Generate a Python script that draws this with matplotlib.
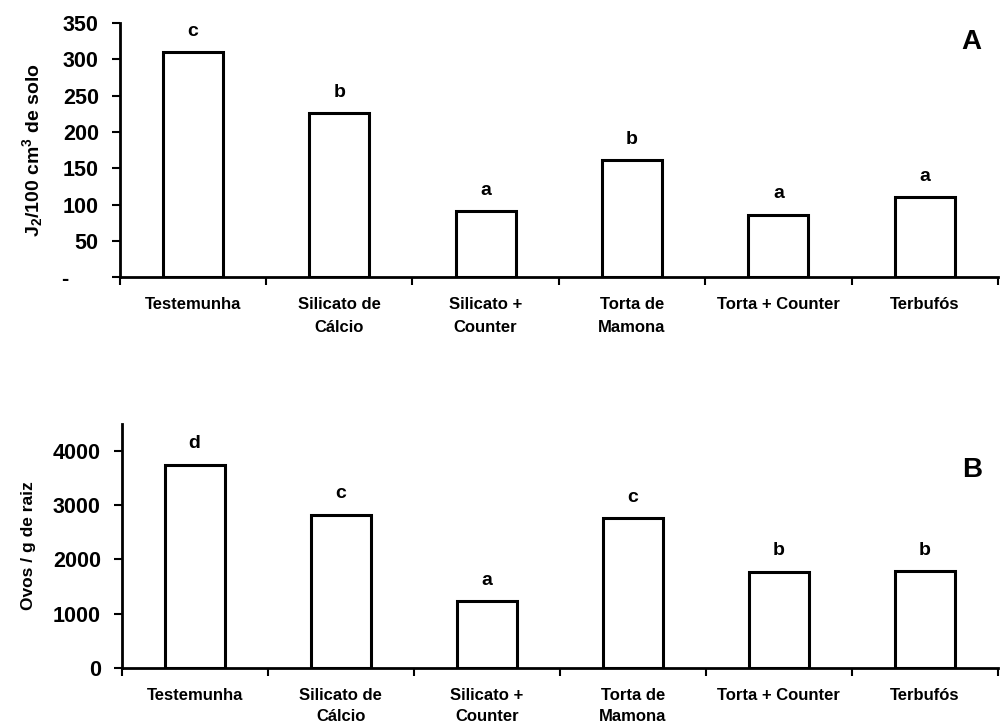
import matplotlib
matplotlib.use('Agg')
import matplotlib.pyplot as plt
import numpy as np

plt.rcParams['font.family'] = ['Liberation Sans', 'DejaVu Sans']
plt.rcParams['font.weight'] = 'bold'
plt.rcParams['mathtext.default'] = 'regular'

# tratamentos
tratamentos = ['Testemunha', 'Silicato de\nCálcio', 'Silicato +\nCounter',
               'Torta de\nMamona', 'Torta + Counter', 'Terbufós']

# A - juvenis (J2) por 100 cm3 de solo
j2_solo = [310, 226, 91, 161, 86, 110]
letras_j2 = ['c', 'b', 'a', 'b', 'a', 'a']

# B - ovos por grama de raiz
ovos_raiz = [3745, 2820, 1230, 2760, 1770, 1785]
letras_ovos = ['d', 'c', 'a', 'c', 'b', 'b']


def painel(ax, valores, letras, ymax, yticks, yticklabels, ylabel, tag, ylabel_size, lsp):
    x = np.arange(len(tratamentos))
    ax.bar(x, valores, width=0.41, color='white', edgecolor='black', linewidth=2.2)
    for xi, v, l in zip(x, valores, letras):
        ax.annotate(l, (xi, v), xytext=(0, 9), textcoords='offset points',
                    ha='center', va='bottom', fontsize=14, fontweight='bold')
    ax.set_xlim(-0.5, len(tratamentos) - 0.5)
    ax.set_ylim(0, ymax)
    ax.set_yticks(yticks)
    ax.set_yticklabels(yticklabels)
    ax.set_xticks(x)
    ax.set_xticklabels(tratamentos, fontsize=12, fontweight='bold', linespacing=lsp)
    ax.set_xticks(np.arange(-0.5, len(tratamentos)), minor=True)
    ax.tick_params(axis='x', which='major', length=0, pad=14)
    ax.tick_params(axis='x', which='minor', length=6, width=1.5, direction='out')
    ax.tick_params(axis='y', length=6, width=1.5, direction='out', pad=9, labelsize=15.5)
    for lab in ax.get_yticklabels():
        lab.set_fontweight('bold')
    for s in ['top', 'right']:
        ax.spines[s].set_visible(False)
    for s in ['left', 'bottom']:
        ax.spines[s].set_linewidth(2)
    ax.set_ylabel(ylabel, fontsize=ylabel_size, fontweight='bold', labelpad=12)
    ax.text(0.97, tag[1], tag[0], transform=ax.transAxes, ha='center', va='center',
            fontsize=20, fontweight='bold')


fig = plt.figure(figsize=(10.05, 7.24), dpi=100)

ax1 = fig.add_axes([0.119, 0.617, 0.874, 0.351])
painel(ax1, j2_solo, letras_j2, 350, [0, 50, 100, 150, 200, 250, 300, 350],
       ['-     ', '50', '100', '150', '200', '250', '300', '350'],
       r'J$_2$/100 cm$^3$ de solo', ('A', 0.925), 14, 1.65)

ax2 = fig.add_axes([0.121, 0.077, 0.872, 0.338])
painel(ax2, ovos_raiz, letras_ovos, 4500, [0, 1000, 2000, 3000, 4000],
       ['0', '1000', '2000', '3000', '4000'],
       'Ovos / g de raiz', ('B', 0.81), 12.5, 1.5)

fig.savefig('out.png', dpi=100)
